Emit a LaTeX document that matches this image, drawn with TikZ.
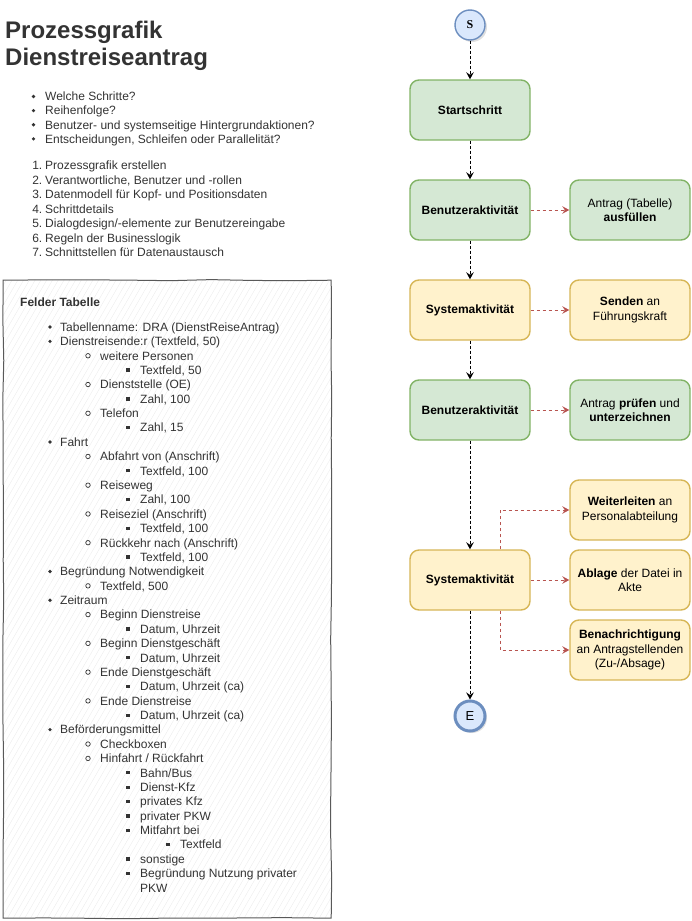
\documentclass[tikz,border=0pt]{standalone}
\usepackage{fontspec}
\setmainfont{Liberation Sans}
\newfontfamily\serifS{Liberation Serif}
\usetikzlibrary{arrows.meta,shadows,patterns.meta,decorations.pathmorphing}
\definecolor{greenfill}{HTML}{D5E8D4}
\definecolor{greenline}{HTML}{82B366}
\definecolor{yellowfill}{HTML}{FFF2CC}
\definecolor{yellowline}{HTML}{D6B656}
\definecolor{bluefill}{HTML}{DAE8FC}
\definecolor{blueline}{HTML}{6C8EBF}
\definecolor{msgred}{HTML}{B85450}
\definecolor{textgray}{HTML}{333333}
\tikzset{
  activity/.style={draw, rounded corners=9pt, line width=1.4pt, minimum width=120pt,
    minimum height=60pt, align=center, inner sep=2pt, font=\fontsize{12}{14.4}\selectfont},
  useract/.style={activity, draw=greenline, fill=greenfill},
  sysact/.style={activity, draw=yellowline, fill=yellowfill},
  event/.style={circle, draw=blueline, fill=bluefill, line width=1.4pt, minimum size=30pt,
    inner sep=0pt, drop shadow={shadow xshift=2pt, shadow yshift=-2pt, opacity=0.25}},
  flow/.style={-{Stealth[length=7pt,width=7.5pt,inset=2.5pt]}, line width=1pt,
    dash pattern=on 3pt off 2pt},
  msg/.style={flow, draw=msgred, dash pattern=on 3pt off 3pt},
  listtext/.style={anchor=base west, inner sep=0pt, text=textgray,
    font=\fontsize{12}{14.4}\selectfont},
  bullet1/.style={circle, fill=textgray, inner sep=0pt, minimum size=3.6pt},
  bullet2/.style={circle, draw=textgray, line width=0.7pt, inner sep=0pt, minimum size=4.5pt},
  bullet3/.style={rectangle, fill=textgray, inner sep=0pt, minimum size=3.3pt},
  bullet4/.style={bullet3},
  bullet5/.style={inner sep=0pt},
}
\begin{document}
\begin{tikzpicture}[x=1pt,y=-1pt]
  \useasboundingbox (0,0) rectangle (692,921);
  % title and lists
  \node[listtext, font=\bfseries\fontsize{24}{28}\selectfont] (title1) at (5,38) {Prozessgrafik};
  \node[listtext, font=\bfseries\fontsize{24}{28}\selectfont] (title2) at (5,65.5) {Dienstreiseantrag};
  \foreach \txt [count=\i from 0] in {Welche Schritte?, Reihenfolge?,
      Benutzer- und systemseitige Hintergrundaktionen?,
      {Entscheidungen, Schleifen oder Parallelität?}} {
    \node[bullet1] (qb\i) at (33.5,{96.5+\i*14.1}) {};
    \node[listtext] (q\i) at (45,{100.8+\i*14.1}) {\txt};
  }
  \foreach \txt [count=\i] in {Prozessgrafik erstellen,
      {Verantwortliche, Benutzer und -rollen},
      Datenmodell für Kopf- und Positionsdaten, Schrittdetails,
      Dialogdesign/-elemente zur Benutzereingabe, Regeln der Businesslogik,
      Schnittstellen für Datenaustausch} {
    \node[listtext, anchor=base east] (num\i) at (42.5,{169.5+(\i-1)*14.5}) {\i.};
    \node[listtext] (step\i) at (45,{169.5+(\i-1)*14.5}) {\txt};
  }
  % fields box
  \node[draw=gray!70!black, line width=1pt, anchor=north west, minimum width=328pt,
    minimum height=638pt, pattern={Lines[angle=60,distance=5pt,line width=0.4pt]},
    pattern color=gray!15, decorate,
    decoration={random steps, segment length=40pt, amplitude=0.6pt}] (fields) at (3,280) {};
  \node[listtext, font=\bfseries\fontsize{12}{14.4}\selectfont] (fieldstitle) at (20,306) {Felder Tabelle};
  \foreach \lvl/\txt [count=\i from 0] in {
      1/{Tabellenname: DRA (DienstReiseAntrag)}, 1/{Dienstreisende:r (Textfeld, 50)},
      2/{weitere Personen}, 3/{Textfeld, 50}, 2/{Dienststelle (OE)}, 3/{Zahl, 100},
      2/{Telefon}, 3/{Zahl, 15}, 1/{Fahrt}, 2/{Abfahrt von (Anschrift)},
      3/{Textfeld, 100}, 2/{Reiseweg}, 3/{Zahl, 100}, 2/{Reiseziel (Anschrift)},
      3/{Textfeld, 100}, 2/{Rückkehr nach (Anschrift)}, 3/{Textfeld, 100},
      1/{Begründung Notwendigkeit}, 2/{Textfeld, 500}, 1/{Zeitraum},
      2/{Beginn Dienstreise}, 3/{Datum, Uhrzeit}, 2/{Beginn Dienstgeschäft},
      3/{Datum, Uhrzeit}, 2/{Ende Dienstgeschäft}, 3/{Datum, Uhrzeit (ca)},
      2/{Ende Dienstreise}, 3/{Datum, Uhrzeit (ca)}, 1/{Beförderungsmittel},
      2/{Checkboxen}, 2/{Hinfahrt / Rückfahrt}, 3/{Bahn/Bus}, 3/{Dienst-Kfz},
      3/{privates Kfz}, 3/{privater PKW}, 3/{Mitfahrt bei}, 4/{Textfeld},
      3/{sonstige}, 3/{Begründung Nutzung privater}, 5/{PKW}} {
    \pgfmathsetmacro\tx{{60,100,140,180,140}[\lvl-1]}
    \pgfmathsetmacro\bx{{50,88,128,168,128}[\lvl-1]}
    \pgfmathsetmacro\ty{327+\i*14.38}
    \node[bullet\lvl] (fb\i) at (\bx,\ty) {};
    \node[listtext] (field\i) at (\tx,{\ty+4.3}) {\txt};
  }
  % process
  \node[event, font=\serifS\bfseries\fontsize{12}{14}\selectfont] (start) at (470,25) {S};
  \node[useract] (first) at (470,110) {\textbf{Startschritt}};
  \node[useract] (user1) at (470,210) {\textbf{Benutzeraktivität}};
  \node[useract] (fillin) at (630,210) {Antrag (Tabelle)\\\textbf{ausfüllen}};
  \node[sysact] (sys1) at (470,310) {\textbf{Systemaktivität}};
  \node[sysact] (send) at (630,310) {\textbf{Senden} an\\Führungskraft};
  \node[useract] (user2) at (470,410) {\textbf{Benutzeraktivität}};
  \node[useract] (sign) at (630,410) {Antrag \textbf{prüfen} und\\\textbf{unterzeichnen}};
  \node[sysact] (sys2) at (470,580) {\textbf{Systemaktivität}};
  \node[sysact] (forward) at (630,510) {\textbf{Weiterleiten} an\\Personalabteilung};
  \node[sysact] (store) at (630,580) {\textbf{Ablage} der Datei in\\Akte};
  \node[sysact] (notify) at (630,650) {\textbf{Benachrichtigung}\\an Antragstellenden\\(Zu-/Absage)};
  \node[event, line width=3pt, font=\fontsize{13}{14}\selectfont] (end) at (470,716) {E};
  \draw[flow] (start) -- (first);
  \draw[flow] (first) -- (user1);
  \draw[flow] (user1) -- (sys1);
  \draw[flow] (sys1) -- (user2);
  \draw[flow] (user2) -- (sys2);
  \draw[flow] (sys2) -- (end);
  \draw[msg] (user1) -- (fillin);
  \draw[msg] (sys1) -- (send);
  \draw[msg] (user2) -- (sign);
  \draw[msg] (sys2) -- (store);
  \draw[msg] ([xshift=30pt]sys2.north) |- (forward.west);
  \draw[msg] ([xshift=30pt]sys2.south) |- (notify.west);
\end{tikzpicture}
\end{document}
